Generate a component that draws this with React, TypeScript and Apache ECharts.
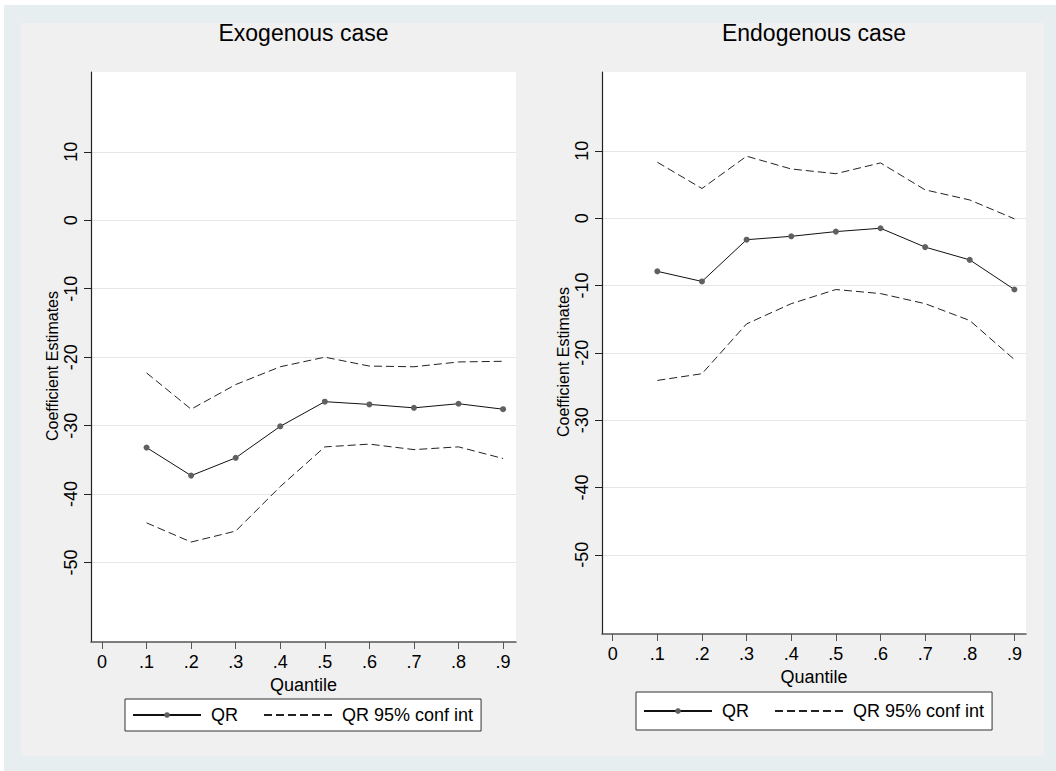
import React, { useEffect, useRef } from "react";
import * as echarts from "echarts";

// ---- data ----
const quantiles = [0.1, 0.2, 0.3, 0.4, 0.5, 0.6, 0.7, 0.8, 0.9];

const exoQR = [-33.2, -37.3, -34.7, -30.1, -26.5, -26.9, -27.4, -26.8, -27.6];
const exoUpper = [-22.3, -27.6, -24.0, -21.4, -20.0, -21.3, -21.4, -20.7, -20.6];
const exoLower = [-44.2, -47.0, -45.4, -38.9, -33.1, -32.7, -33.5, -33.1, -34.8];

const endoQR = [-7.9, -9.4, -3.2, -2.7, -2.0, -1.5, -4.3, -6.2, -10.6];
const endoUpper = [8.3, 4.4, 9.2, 7.3, 6.6, 8.2, 4.2, 2.7, -0.1];
const endoLower = [-24.1, -23.1, -15.7, -12.7, -10.6, -11.2, -12.7, -15.2, -21.0];

const xTicks = [0, 0.1, 0.2, 0.3, 0.4, 0.5, 0.6, 0.7, 0.8, 0.9];
const yTicks = [10, 0, -10, -20, -30, -40, -50];

const titles = ["Exogenous case", "Endogenous case"];
const seriesNames = ["QR", "QR 95% conf int"];

const FONT = '"Liberation Sans", Arial, Helvetica, sans-serif';

export default function App() {
  const ref = useRef<HTMLDivElement>(null);

  useEffect(() => {
    const chart = echarts.init(ref.current as HTMLDivElement, null, { renderer: "svg" });
    const pair = (ys: number[]) => quantiles.map((q, i) => [q, ys[i]]);

    const panels = [
      {
        title: titles[0],
        grid: { left: 91, top: 72, width: 425, height: 570 },
        xMin: -0.0247, xMax: 0.929, yMin: -61.6, yMax: 21.65,
        qr: exoQR, up: exoUpper, lo: exoLower,
        legend: { left: 125, top: 699, padding: [7, 8, 7, 7] },
      },
      {
        title: titles[1],
        grid: { left: 602, top: 72, width: 424, height: 562 },
        xMin: -0.024, xMax: 0.926, yMin: -61.75, yMax: 21.7,
        qr: endoQR, up: endoUpper, lo: endoLower,
        legend: { left: 636, top: 692, padding: [10, 8, 10, 7] },
      },
    ];

    const textStyle = { fontFamily: FONT, fontSize: 18, color: "#000" };

    const option: any = {
      animation: false,
      graphic: panels.map((p) => ({
        type: "text",
        x: p.grid.left + p.grid.width / 2,
        y: 33,
        style: {
          text: p.title,
          fill: "#000",
          fontSize: 23,
          fontFamily: FONT,
          align: "center",
          verticalAlign: "middle",
          textAlign: "center",
          textVerticalAlign: "middle",
        },
      })),
      grid: panels.map((p) => ({
        ...p.grid,
        show: true,
        backgroundColor: "#ffffff",
        borderWidth: 0,
        containLabel: false,
      })),
      xAxis: panels.map((p, i) => ({
        type: "value",
        gridIndex: i,
        min: p.xMin,
        max: p.xMax,
        name: "Quantile",
        nameLocation: "middle",
        nameGap: 23,
        nameTextStyle: { ...textStyle },
        axisLine: { show: true, onZero: false, lineStyle: { color: "#555", width: 1.5 } },
        axisTick: { show: true, length: 7, customValues: xTicks, lineStyle: { color: "#555", width: 1 } },
        axisLabel: {
          ...textStyle,
          margin: 11,
          customValues: xTicks,
          formatter: (v: number) => (v === 0 ? "0" : v.toFixed(1).replace(/^0/, "")),
        },
        splitLine: { show: false },
      })),
      yAxis: panels.map((p, i) => ({
        type: "value",
        gridIndex: i,
        min: p.yMin,
        max: p.yMax,
        name: "Coefficient Estimates",
        nameLocation: "middle",
        nameRotate: 90,
        nameGap: 31,
        nameTextStyle: { ...textStyle, fontSize: 16, padding: [0, 18, 0, 0] },
        axisLine: { show: true, onZero: false, lineStyle: { color: "#222", width: 1.2 } },
        axisTick: { show: true, length: 7, customValues: yTicks, lineStyle: { color: "#222", width: 1 } },
        axisLabel: {
          ...textStyle,
          rotate: 90,
          margin: 11,
          customValues: yTicks,
          formatter: (v: number) => String(v),
        },
        splitLine: { show: true, lineStyle: { color: "#e6e6e6", width: 1 } },
      })),
      legend: panels.map((p) => ({
        left: p.legend.left,
        top: p.legend.top,
        orient: "horizontal",
        itemWidth: 68,
        itemHeight: 7,
        itemGap: 25,
        padding: p.legend.padding,
        backgroundColor: "#ffffff",
        borderColor: "#333",
        borderWidth: 1,
        borderRadius: 0,
        selectedMode: false,
        textStyle: { ...textStyle, padding: [0, 0, 0, 5] },
        data: [
          { name: seriesNames[0] },
          { name: seriesNames[1], itemStyle: { color: "rgba(0,0,0,0)", borderWidth: 0 } },
        ],
      })),
      series: panels.flatMap((p, i) => [
        {
          type: "line",
          name: seriesNames[1],
          xAxisIndex: i,
          yAxisIndex: i,
          data: pair(p.up),
          symbol: "none",
          silent: true,
          lineStyle: { color: "#222", width: 1, type: [8, 4] },
          itemStyle: { color: "#222" },
        },
        {
          type: "line",
          name: seriesNames[1],
          xAxisIndex: i,
          yAxisIndex: i,
          data: pair(p.lo),
          symbol: "none",
          silent: true,
          lineStyle: { color: "#222", width: 1, type: [8, 4] },
          itemStyle: { color: "#222" },
        },
        {
          type: "line",
          name: seriesNames[0],
          xAxisIndex: i,
          yAxisIndex: i,
          data: pair(p.qr),
          symbol: "circle",
          symbolSize: 6,
          silent: true,
          z: 3,
          lineStyle: { color: "#111", width: 1 },
          itemStyle: { color: "#606060" },
        },
      ]),
    };

    chart.setOption(option);
    return () => chart.dispose();
  }, []);

  return (
    <div style={{ position: "fixed", left: 0, top: 0, width: 1056, height: 771, background: "#ffffff" }}>
      <div style={{ position: "absolute", left: 4, top: 5, right: 0, bottom: 0, background: "#e7eef0" }} />
      <div style={{ position: "absolute", left: 21, top: 23, width: 1023, height: 733, background: "#f0f0f0" }} />
      <div ref={ref} style={{ position: "absolute", left: 0, top: 0, width: 1056, height: 771 }} />
    </div>
  );
}
